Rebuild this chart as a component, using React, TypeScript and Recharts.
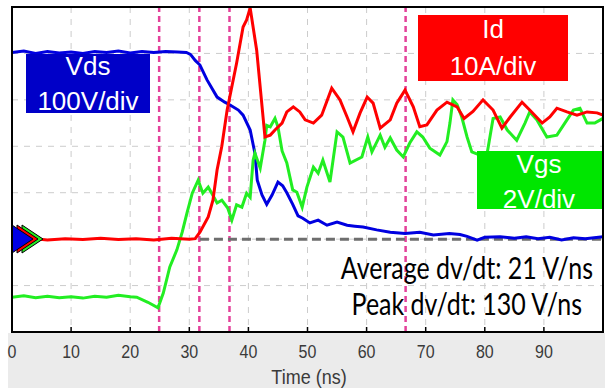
import * as React from "react";
import {
  LineChart,
  Line,
  XAxis,
  YAxis,
  CartesianGrid,
  ReferenceLine,
} from "recharts";

// [time ns, divisions from bottom]
const vdsPoints: [number, number][] = [
  [0, 6.02], [2, 6.05], [4, 6.0], [6, 6.04], [8, 6.01], [10, 6.03], [12, 6.0], [14, 6.04],
  [16, 6.02], [18, 6.05], [20, 6.01], [22, 6.04], [24, 6.02], [26, 6.04], [28, 6.03],
  [29.5, 6.02], [30.2, 5.98], [31, 5.85], [31.8, 5.75], [33, 5.43], [34.7, 5.06], [36, 4.95],
  [36.9, 4.89], [38.3, 4.78], [39.1, 4.67], [40.3, 4.35], [41.1, 3.85], [41.5, 3.27],
  [42.3, 2.95], [43.1, 2.75], [44, 2.95], [45, 3.23], [45.8, 3.15], [46.5, 3.0], [47.5, 2.75],
  [48.4, 2.5], [49.2, 2.45], [50.4, 2.35], [51.8, 2.41], [53.3, 2.3], [55, 2.37], [56.7, 2.3],
  [58, 2.28], [59.4, 2.26], [61.7, 2.2], [64, 2.15], [66.5, 2.12], [69, 2.15], [71.3, 2.09],
  [74, 2.12], [75.8, 2.1], [77, 2.06], [78.7, 1.98], [80, 2.04], [82.6, 2.05], [85, 2.02],
  [87, 2.05], [89, 2.01], [91, 2.04], [93, 1.98], [95, 2.03], [97, 2.01], [100, 2.05],
];

const idPoints: [number, number][] = [
  [0, 2.0], [3, 2.02], [6, 1.98], [9, 2.01], [12, 1.99], [15, 2.02], [18, 1.99], [21, 2.01],
  [24, 1.98], [27, 2.02], [30, 2.0], [31, 2.01], [31.8, 2.15], [33.2, 2.48], [34, 2.84],
  [34.7, 3.49], [35.5, 4.0], [36.4, 4.78], [38, 5.79], [39.1, 6.57], [39.7, 6.72], [40.3, 6.98],
  [41.4, 6.07], [42.8, 4.2], [43.7, 4.24], [44.5, 4.35], [45.7, 4.5], [46.5, 4.74], [47.6, 4.85],
  [48.7, 4.74], [49.6, 4.57], [51, 4.5], [52.4, 4.67], [54.1, 5.25], [55.5, 5.0], [56.7, 4.63],
  [57.7, 4.31], [58.9, 4.72], [60.1, 5.06], [61.1, 4.93], [62.3, 4.39], [64, 4.57], [65.1, 4.93],
  [66.5, 5.21], [67.9, 4.85], [69, 4.42], [70.2, 4.46], [71.9, 4.78], [73.6, 4.95], [75.3, 4.85],
  [76.5, 4.6], [78, 4.75], [79.7, 5.0], [81.4, 4.78], [82.9, 4.39], [84.3, 4.63], [86.3, 4.95],
  [87.6, 4.78], [89.7, 4.5], [91, 4.63], [92.2, 4.82], [93.9, 4.74], [95.6, 4.67], [97.3, 4.74],
  [99, 4.72], [100, 4.67],
];

const vgsPoints: [number, number][] = [
  [0, 0.75], [2, 0.78], [4, 0.74], [6, 0.77], [8, 0.74], [10, 0.76], [12, 0.73], [14, 0.77],
  [16, 0.75], [18, 0.79], [20, 0.76], [21.1, 0.75], [23, 0.64], [24.7, 0.52], [25.6, 0.84],
  [26.7, 1.4], [27.9, 1.77], [28.8, 2.15], [29.6, 2.56], [30.5, 2.99], [31.5, 3.27], [32.3, 2.99],
  [33.2, 3.12], [33.8, 2.99], [34.7, 2.78], [35.5, 2.84], [36.5, 2.67], [37.2, 2.41], [38, 2.74],
  [38.9, 2.69], [39.7, 2.99], [40.3, 2.9], [40.8, 3.7], [41.1, 3.85], [42, 3.53], [42.8, 4.13],
  [43.1, 4.45], [43.7, 4.42], [44.5, 4.6], [45, 4.42], [45.7, 3.9], [46.5, 3.64], [47.5, 3.06],
  [48.2, 3.01], [49.1, 2.69], [49.9, 3.12], [51, 3.55], [51.8, 3.42], [52.6, 3.7], [53.8, 3.23],
  [55, 4.31], [56, 4.2], [57.2, 3.64], [59.2, 3.77], [60.2, 4.2], [60.9, 3.88], [62.3, 4.24],
  [63.1, 3.98], [64, 4.18], [65.1, 3.92], [66.2, 3.77], [67.3, 4.07], [68.5, 4.31], [69.5, 4.2],
  [70.7, 3.96], [72.4, 3.81], [73.6, 4.1], [74.1, 4.5], [74.6, 5.0], [75.3, 4.9], [76.1, 4.63],
  [77, 4.2], [77.8, 3.88], [79.2, 3.81], [80.4, 3.85], [81.4, 4.6], [82.6, 4.63], [83.8, 4.35],
  [85.4, 4.13], [86.8, 4.5], [87.6, 4.74], [88.8, 4.57], [90.5, 4.2], [92.2, 4.24], [93.9, 4.57],
  [95, 4.78], [96.1, 4.82], [97.3, 4.5], [98.6, 4.5], [100, 4.6],
];

const timeTicks = [0, 10, 20, 30, 40, 50, 60, 70, 80, 90];
const divTicks = [0, 1, 2, 3, 4, 5, 6, 7];
const cursorTimes = [24.9, 31.7, 36.8, 66.6];
const zeroLevel = 2;

const toRows = (pts: [number, number][]) => pts.map(([t, v]) => ({ t, v }));
const vdsData = toRows(vdsPoints);
const idData = toRows(idPoints);
const vgsData = toRows(vgsPoints);

const TimeTick = (props: any) => {
  const { x, y, payload } = props;
  return (
    <g>
      <line x1={x} y1={y} x2={x} y2={y - 5} stroke="#000" strokeWidth={1.5} />
      <text
        transform={`translate(${x},${y + 26}) scale(1,1.2)`}
        textAnchor="middle"
        fontFamily="Liberation Sans, Arial, sans-serif"
        fontSize={16}
        fill="#3a3a3a"
      >
        {payload.value}
      </text>
    </g>
  );
};

// scope channel ground markers, stacked chevrons on top of the traces at the left edge
const ChannelMarker = ({ cx, cy }: { cx: number; cy: number }) => {
  const tri = (dx: number) =>
    `${cx + dx},${cy - 14} ${cx + dx + 21},${cy} ${cx + dx},${cy + 14}`;
  return (
    <g>
      <polygon points={tri(10)} fill="#22ee22" stroke="#000" strokeWidth={1} />
      <polygon points={tri(5)} fill="#ff0000" stroke="#000" strokeWidth={1} />
      <polygon points={tri(0)} fill="#0000e6" stroke="#000" strokeWidth={1} />
    </g>
  );
};

const labelFont = "Liberation Sans, Arial, sans-serif";

export default function App() {
  return (
    <div style={{ position: "absolute", left: 0, top: 0, width: 605, height: 388, background: "#fff" }}>
      <div style={{ position: "absolute", left: 8, top: 333, width: 597, height: 55, background: "#ebebeb" }} />
      <div style={{ position: "absolute", left: 0, top: 0 }}>
        <LineChart width={605} height={388} margin={{ top: 7, right: 2, bottom: 0, left: 12 }}>
          <CartesianGrid stroke="#cccccc" strokeDasharray="6 6" />
          <XAxis
            type="number"
            dataKey="t"
            domain={[0, 100]}
            ticks={timeTicks}
            height={56}
            axisLine={false}
            tickLine={false}
            tickSize={0}
            tickMargin={0}
            tick={<TimeTick />}
            allowDataOverflow
          />
          <YAxis type="number" domain={[0, 7]} ticks={divTicks} hide width={0} />
          {cursorTimes.map((t) => (
            <ReferenceLine key={t} x={t} stroke="#e4419a" strokeWidth={2.5} strokeDasharray="6 4" />
          ))}
          <ReferenceLine
            segment={[{ x: 31.8, y: zeroLevel }, { x: 100, y: zeroLevel }]}
            stroke="#6e6e6e"
            strokeWidth={3}
            strokeDasharray="9 5"
          />
          <Line data={vdsData} dataKey="v" type="linear" stroke="#0000e0" strokeWidth={3} dot={false} isAnimationActive={false} />
          <Line data={vgsData} dataKey="v" type="linear" stroke="#22ee22" strokeWidth={3} dot={false} isAnimationActive={false} />
          <Line data={idData} dataKey="v" type="linear" stroke="#ff0000" strokeWidth={3} dot={false} isAnimationActive={false} />
        </LineChart>
      </div>
      <svg width={605} height={388} style={{ position: "absolute", left: 0, top: 0, pointerEvents: "none" }}>
        <ChannelMarker cx={12} cy={239} />
        <rect x={12} y={7} width={591} height={325} fill="none" stroke="#000" strokeWidth={2} />

        <rect x={26} y={54} width={124} height={59} fill="#0000c8" />
        <text x={88} y={75} textAnchor="middle" fill="#fff" fontFamily={labelFont} fontSize={26}>Vds</text>
        <text x={88} y={110} textAnchor="middle" fill="#fff" fontFamily={labelFont} fontSize={26}>100V/div</text>

        <rect x={418} y={15} width={150} height={66} fill="#ff0000" />
        <text x={493} y={38} textAnchor="middle" fill="#fff" fontFamily={labelFont} fontSize={26}>Id</text>
        <text x={493} y={75} textAnchor="middle" fill="#fff" fontFamily={labelFont} fontSize={26}>10A/div</text>

        <rect x={477} y={151} width={125} height={58} fill="#00e600" />
        <text x={539} y={173} textAnchor="middle" fill="#fff" fontFamily={labelFont} fontSize={26}>Vgs</text>
        <text x={539} y={208} textAnchor="middle" fill="#fff" fontFamily={labelFont} fontSize={26}>2V/div</text>

        <text transform="translate(593,279) scale(1,1.2)" textAnchor="end" fill="#000" fontFamily="Lato, sans-serif" fontSize={25}>
          Average dv/dt: 21 V/ns
        </text>
        <text transform="translate(582,315) scale(1,1.2)" textAnchor="end" fill="#000" fontFamily="Lato, sans-serif" fontSize={25}>
          Peak dv/dt: 130 V/ns
        </text>

        <text transform="translate(309,384) scale(1,1.15)" textAnchor="middle" fill="#3a3a3a" fontFamily={labelFont} fontSize={18}>
          Time (ns)
        </text>
      </svg>
    </div>
  );
}
